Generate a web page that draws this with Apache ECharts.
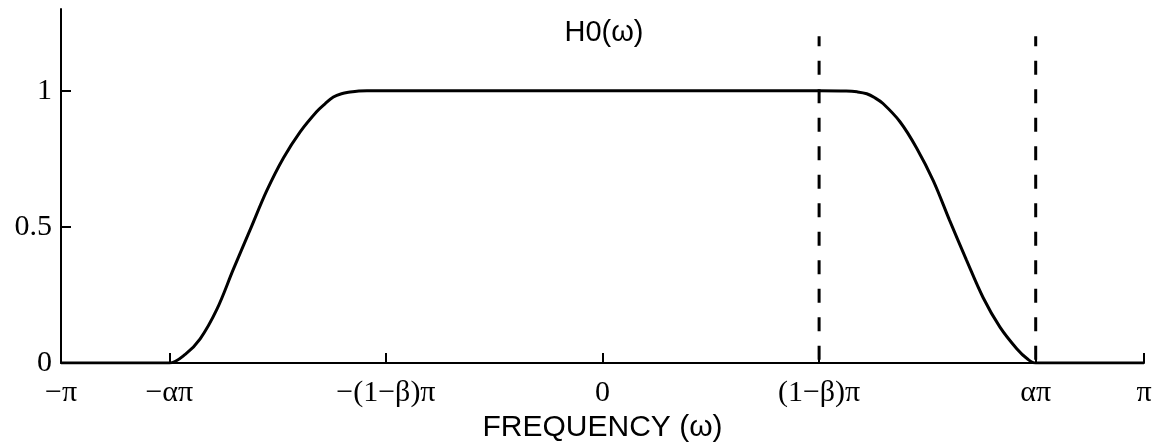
<!DOCTYPE html>
<html>
<head>
<meta charset="utf-8">
<script src="https://cdn.jsdelivr.net/npm/echarts@6/dist/echarts.min.js"></script>
<style>
html,body{margin:0;padding:0;background:#fff;}
#chart{width:1159px;height:448px;}
</style>
</head>
<body>
<div id="chart"></div>
<script>
// frequency in units of pi
const omega = [-1, -0.8, -0.77, -0.743, -0.712, -0.682, -0.651, -0.62, -0.589, -0.558, -0.528, -0.512, -0.497, -0.482, -0.466, -0.45, -0.435, -0.4, -0.2, 0, 0.2, 0.4, 0.45, 0.47, 0.488, 0.503, 0.518, 0.549, 0.58, 0.611, 0.641, 0.672, 0.703, 0.734, 0.765, 0.785, 0.8, 0.9, 1];
const H0 = [0, 0, 0.033, 0.089, 0.198, 0.343, 0.488, 0.633, 0.754, 0.850, 0.923, 0.953, 0.977, 0.989, 0.995, 0.999, 1, 1, 1, 1, 1, 1, 0.999, 0.996, 0.989, 0.974, 0.953, 0.887, 0.790, 0.669, 0.524, 0.379, 0.240, 0.132, 0.053, 0.015, 0, 0, 0];
const xTickValues = [-1, -0.8, -0.4, 0, 0.4, 0.8, 1];
const xTickLabels = ['\u2212\u03c0', '\u2212\u03b1\u03c0', '\u2212(1\u2212\u03b2)\u03c0', '0', '(1\u2212\u03b2)\u03c0', '\u03b1\u03c0', '\u03c0'];
const yTickValues = [0, 0.5, 1];
const yTickLabels = ['0', '0.5', '1'];
const dashedAt = [0.4, 0.8];
const dashedTop = 1.2;
const titleText = 'H0(\u03c9)';
const xName = 'FREQUENCY (\u03c9)';

const chart = echarts.init(document.getElementById('chart'));
const serif = 'Liberation Serif';
const sans = 'Liberation Sans';

const series = [{
  type: 'line',
  data: omega.map((w, i) => [w, H0[i]]),
  showSymbol: false,
  smooth: 0.35,
  lineStyle: {color: '#000', width: 3},
  z: 3
}];
dashedAt.forEach(v => {
  series.push({
    type: 'line',
    data: [[v, dashedTop], [v, 0]],
    showSymbol: false,
    lineStyle: {color: '#000', width: 3, type: [14, 14.5], dashOffset: 4},
    z: 2
  });
});

chart.setOption({
  animation: false,
  title: {
    text: titleText,
    left: 599, top: 13,
    textAlign: 'center',
    textStyle: {fontFamily: sans, fontSize: 29, fontWeight: 'normal', color: '#000'}
  },
  grid: {left: 61, right: 15, top: 9, bottom: 80, containLabel: false},
  xAxis: {
    type: 'value', min: -1, max: 1,
    name: xName, nameLocation: 'middle', nameGap: 47,
    nameTextStyle: {fontFamily: sans, fontSize: 30, color: '#000'},
    axisLine: {show: true, onZero: false, lineStyle: {color: '#000', width: 2}},
    axisTick: {show: true, inside: true, length: 10, customValues: xTickValues, lineStyle: {color: '#000', width: 2}},
    axisLabel: {
      customValues: xTickValues, margin: 15,
      fontFamily: serif, fontSize: 30, color: '#000',
      formatter: v => { const i = xTickValues.findIndex(t => Math.abs(t - v) < 1e-9); return i >= 0 ? xTickLabels[i] : ''; }
    },
    splitLine: {show: false}
  },
  yAxis: {
    type: 'value', min: 0, max: 1.3,
    axisLine: {show: true, onZero: false, lineStyle: {color: '#000', width: 2}},
    axisTick: {show: true, inside: true, length: 10, customValues: yTickValues, lineStyle: {color: '#000', width: 2}},
    axisLabel: {
      customValues: yTickValues, margin: 9,
      fontFamily: serif, fontSize: 30, color: '#000',
      formatter: v => { const i = yTickValues.findIndex(t => Math.abs(t - v) < 1e-9); return i >= 0 ? yTickLabels[i] : ''; }
    },
    splitLine: {show: false}
  },
  series: series
});
</script>
</body>
</html>
